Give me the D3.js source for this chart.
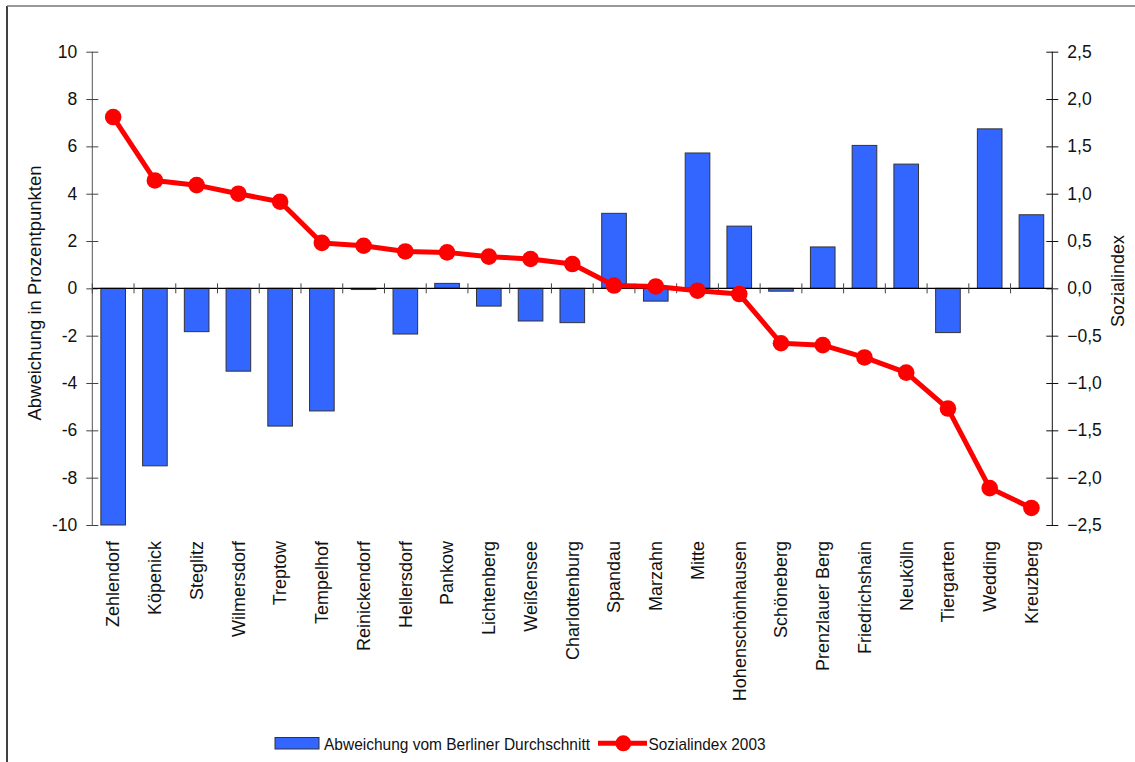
<!DOCTYPE html>
<html>
<head>
<meta charset="utf-8">
<script src="https://cdn.jsdelivr.net/npm/d3@7"></script>
<style>
  html, body { margin: 0; padding: 0; background: #fff; }
  svg { display: block; font-family: "Liberation Sans", Arial, sans-serif; }
</style>
</head>
<body>
<svg id="chart" width="1135" height="762"></svg>
<script>
// Berlin districts, ordered by social index
const districts = [
  "Zehlendorf", "Köpenick", "Steglitz", "Wilmersdorf", "Treptow", "Tempelhof",
  "Reinickendorf", "Hellersdorf", "Pankow", "Lichtenberg", "Weißensee",
  "Charlottenburg", "Spandau", "Marzahn", "Mitte", "Hohenschönhausen",
  "Schöneberg", "Prenzlauer Berg", "Friedrichshain", "Neukölln", "Tiergarten",
  "Wedding", "Kreuzberg"
];

// Deviation from the Berlin average, in percentage points (bars, left axis)
const deviation = [
  -10.0, -7.5, -1.83, -3.5, -5.82, -5.18,
  -0.05, -1.93, 0.21, -0.75, -1.38,
  -1.45, 3.17, -0.54, 5.72, 2.63,
  -0.12, 1.75, 6.04, 5.25, -1.87,
  6.74, 3.11
];

// Sozialindex 2003 (line, right axis)
const sozialindex = [
  1.81, 1.14, 1.09, 1.00, 0.915, 0.48,
  0.45, 0.39, 0.38, 0.335, 0.31,
  0.257, 0.03, 0.02, -0.025, -0.06,
  -0.58, -0.60, -0.73, -0.89, -1.27,
  -2.11, -2.32
];

const leftTicks = [10, 8, 6, 4, 2, 0, -2, -4, -6, -8, -10];
const rightTicks = [2.5, 2.0, 1.5, 1.0, 0.5, 0.0, -0.5, -1.0, -1.5, -2.0, -2.5];

const legendLabels = ["Abweichung vom Berliner Durchschnitt", "Sozialindex 2003"];
const axisTitles = ["Abweichung in Prozentpunkten", "Sozialindex"];

const svg = d3.select("#chart");
const plot = { left: 92.3, right: 1052.3, top: 51.7, bottom: 525 };

const x = d3.scaleBand().domain(districts).range([plot.left, plot.right]).paddingInner(0.41).paddingOuter(0.205);
const xStep = d3.scaleBand().domain(districts).range([plot.left, plot.right]);
const yL = d3.scaleLinear().domain([-10, 10]).range([plot.bottom, plot.top]);
const yR = d3.scaleLinear().domain([-2.5, 2.5]).range([plot.bottom, plot.top]);

const fmt = d3.format(".1f");
const deFmt = v => fmt(v).replace(".", ",");

// frame lines
svg.append("line").attr("x1", 7).attr("x2", 7).attr("y1", 6).attr("y2", 762)
  .attr("stroke", "#000").attr("stroke-width", 1.5);
svg.append("line").attr("x1", 7).attr("x2", 1135).attr("y1", 6).attr("y2", 6)
  .attr("stroke", "#777").attr("stroke-width", 1.5);

// bars
svg.append("g").selectAll("rect").data(districts).join("rect")
  .attr("x", d => x(d))
  .attr("width", x.bandwidth())
  .attr("y", (d, i) => Math.min(yL(deviation[i]), yL(0)))
  .attr("height", (d, i) => Math.max(1, Math.abs(yL(deviation[i]) - yL(0))))
  .attr("fill", "#3366ff")
  .attr("stroke", "#333")
  .attr("stroke-width", 1);

// left axis
const axL = svg.append("g").attr("transform", `translate(${plot.left},0)`)
  .call(d3.axisLeft(yL).tickValues(leftTicks).tickSize(6).tickSizeOuter(0).tickPadding(9)
    .tickFormat(d => String(d)));
axL.selectAll(".tick line").attr("x2", 6).attr("x1", -6).attr("stroke", "#444");
axL.select(".domain").attr("stroke", "#555").attr("d", `M0,${plot.top}V${plot.bottom}`);
axL.selectAll("text").attr("font-size", 17.5).attr("fill", "#111").attr("font-family", "Liberation Sans, Arial, sans-serif");

// right axis
const axR = svg.append("g").attr("transform", `translate(${plot.right},0)`)
  .call(d3.axisRight(yR).tickValues(rightTicks).tickSize(6).tickSizeOuter(0).tickPadding(9)
    .tickFormat(deFmt));
axR.selectAll(".tick line").attr("x1", -6).attr("x2", 6).attr("stroke", "#111");
axR.select(".domain").attr("stroke", "#111").attr("d", `M0,${plot.top}V${plot.bottom}`);
axR.selectAll("text").attr("font-size", 17.5).attr("fill", "#111").attr("font-family", "Liberation Sans, Arial, sans-serif");

// category axis on the zero line
const zeroY = yL(0);
svg.append("line").attr("x1", plot.left).attr("x2", plot.right).attr("y1", zeroY).attr("y2", zeroY)
  .attr("stroke", "#000").attr("stroke-width", 1.2);
const boundaries = districts.map(d => xStep(d)).concat([plot.right]);
svg.append("g").selectAll("line").data(boundaries).join("line")
  .attr("x1", d => d).attr("x2", d => d)
  .attr("y1", zeroY - 5).attr("y2", zeroY + 5)
  .attr("stroke", "#444").attr("stroke-width", 1);

// category labels, rotated
svg.append("g").selectAll("text").data(districts).join("text")
  .attr("transform", d => `translate(${xStep(d) + xStep.bandwidth() / 2},541) rotate(-90)`)
  .attr("text-anchor", "end")
  .attr("dy", "0.35em")
  .attr("font-size", 18)
  .attr("fill", "#111")
  .text(d => d);

// social index line
const line = d3.line()
  .x((d, i) => xStep(districts[i]) + xStep.bandwidth() / 2)
  .y(d => yR(d));
svg.append("path").datum(sozialindex)
  .attr("d", line)
  .attr("fill", "none")
  .attr("stroke", "#ff0000")
  .attr("stroke-width", 5)
  .attr("stroke-linejoin", "round");
svg.append("g").selectAll("circle").data(sozialindex).join("circle")
  .attr("cx", (d, i) => xStep(districts[i]) + xStep.bandwidth() / 2)
  .attr("cy", d => yR(d))
  .attr("r", 8.3)
  .attr("fill", "#ff0000");

// axis titles
svg.append("text")
  .attr("transform", `translate(41,293) rotate(-90)`)
  .attr("text-anchor", "middle")
  .attr("font-size", 18.5)
  .attr("fill", "#111")
  .text(axisTitles[0]);
svg.append("text")
  .attr("transform", `translate(1124,281) rotate(-90)`)
  .attr("text-anchor", "middle")
  .attr("font-size", 18)
  .attr("fill", "#111")
  .text(axisTitles[1]);

// legend
const lg = svg.append("g");
lg.append("rect").attr("x", 275).attr("y", 737.5).attr("width", 44).attr("height", 11.5)
  .attr("fill", "#3366ff").attr("stroke", "#333").attr("stroke-width", 1);
lg.append("text").attr("x", 324).attr("y", 750).attr("font-size", 17).attr("fill", "#111")
  .attr("textLength", 266).attr("lengthAdjust", "spacingAndGlyphs")
  .text(legendLabels[0]);
lg.append("line").attr("x1", 598).attr("x2", 647).attr("y1", 743.3).attr("y2", 743.3)
  .attr("stroke", "#ff0000").attr("stroke-width", 5);
lg.append("circle").attr("cx", 623.3).attr("cy", 743.3).attr("r", 8).attr("fill", "#ff0000");
lg.append("text").attr("x", 648.5).attr("y", 750).attr("font-size", 17).attr("fill", "#111")
  .attr("textLength", 117).attr("lengthAdjust", "spacingAndGlyphs")
  .text(legendLabels[1]);
</script>
</body>
</html>
